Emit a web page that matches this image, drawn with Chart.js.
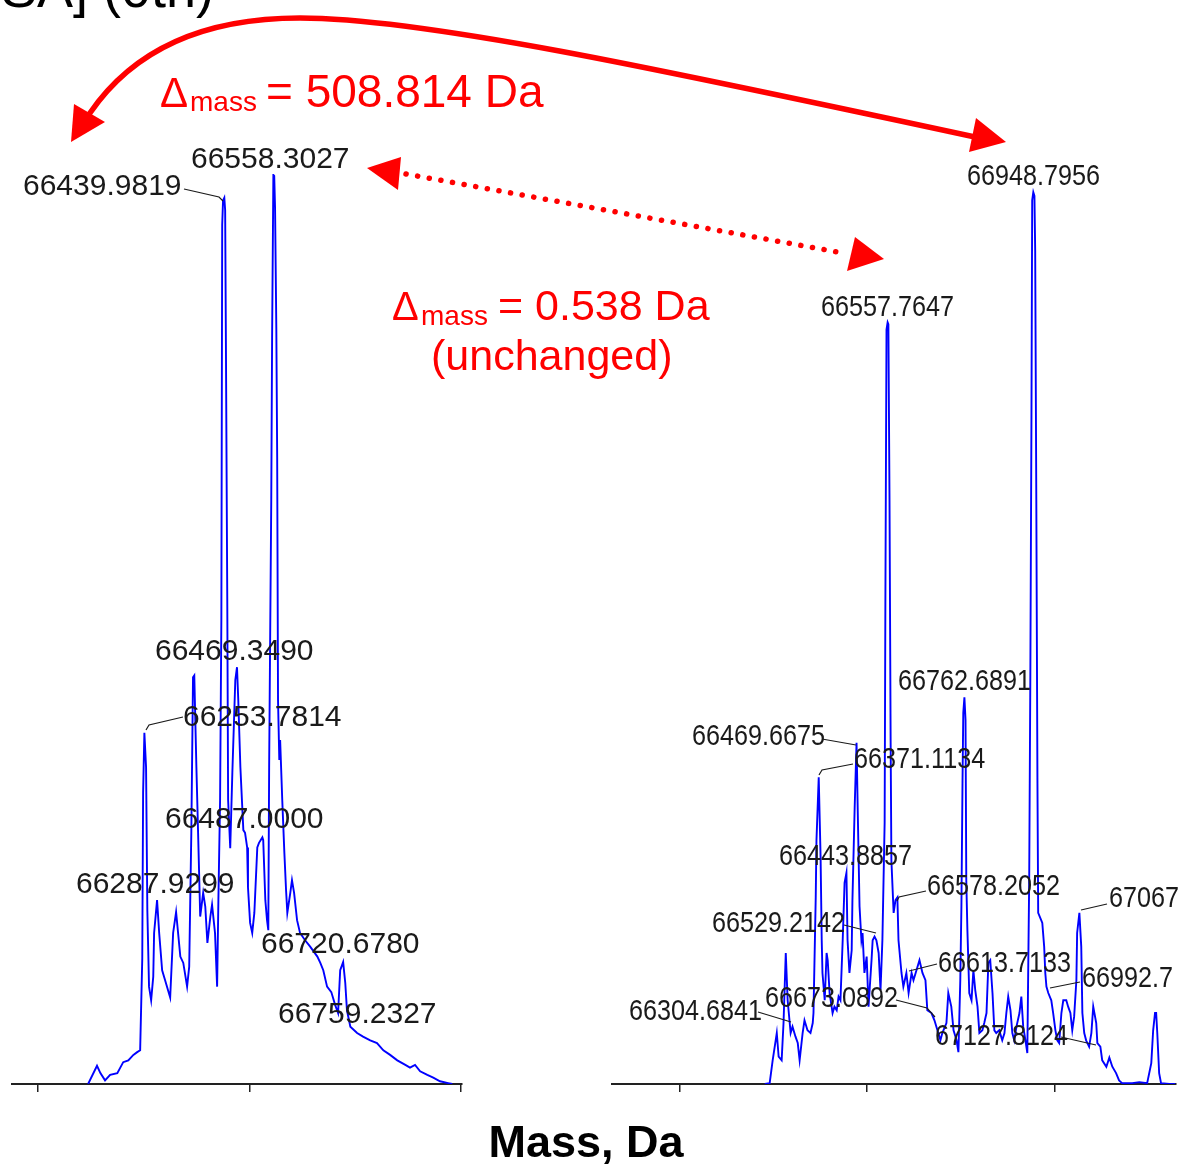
<!DOCTYPE html>
<html>
<head>
<meta charset="utf-8">
<script src="https://cdn.jsdelivr.net/npm/chart.js@4.4.1/dist/chart.umd.min.js"></script>
<style>
  html, body { margin: 0; padding: 0; background: #ffffff; }
  #wrap { position: relative; width: 1178px; height: 1165px; overflow: hidden; background: #fff; }
  canvas { position: absolute; top: 0; }
  #cL { left: 0; }
  #cR { left: 600px; }
  #ov { left: 0; pointer-events: none; }
</style>
</head>
<body>
<div id="wrap">
  <canvas id="cL" width="480" height="1165" style="width:480px;height:1165px"></canvas>
  <canvas id="cR" width="578" height="1165" style="width:578px;height:1165px"></canvas>
  <canvas id="ov" width="1178" height="1165" style="width:1178px;height:1165px"></canvas>
</div>
<script>
// ---------------- DATA ----------------
// Left spectrum: deconvoluted mass (Da) and relative intensity (%)
const massL = [66118,66139,66147,66158,66170,66187,66201,66213,66225,66234,66241,66246,66248,66251,66255,66258,66262,66267,66272,66274,66281,66286,66293,66300,66312,66319,66326,66336,66343,66352,66357,66362,66366,66369,66374,66378,66383,66390,66395,66400,66407,66411,66418,66423,66426,66430,66433,66435,66437,66440,66442,66444,66447,66449,66454,66459,66466,66470,66473,66478,66485,66489,66494,66496,66501,66506,66511,66518,66522,66530,66532,66537,66541,66544,66546,66551,66553,66556,66558,66560,66563,66565,66567,66570,66572,66577,66582,66586,66589,66596,66600,66605,66612,66619,66631,66643,66660,66667,66674,66683,66693,66702,66709,66714,66721,66726,66730,66738,66754,66768,66785,66801,66816,66832,66849,66868,66879,66891,66903,66920,66934,66950,66969,66979];
const intL  = [0,2.0,1.2,0.4,1.0,1.2,2.4,2.6,3.2,3.5,3.7,13.8,32.0,38.6,34.8,19.1,10.7,9.2,11.8,16.6,20.2,16.6,12.5,11.4,9.5,16.6,18.9,14.0,13.3,10.7,12.9,27.6,44.7,44.9,34.8,27.6,18.4,21.0,19.5,15.5,18.4,19.7,16.6,10.7,20.2,31.2,51.0,94.4,97.1,97.4,96.0,79.6,53.2,31.2,25.9,34.2,44.4,45.8,42.2,34.8,27.9,27.6,26.0,21.6,17.7,16.6,18.8,26.0,26.5,27.1,26.8,20.2,18.0,16.9,34.8,64.2,82.0,99.9,99.8,96.3,82.9,68.9,42.2,35.6,37.8,31.2,25.4,21.3,18.8,21.0,22.4,21.0,18.0,16.6,15.8,15.1,14.0,13.3,12.5,10.7,10.1,8.7,7.8,12.5,13.4,11.1,8.1,6.3,5.6,5.2,4.8,4.5,3.7,3.2,2.6,2.1,1.8,2.1,1.4,1.0,0.7,0.3,0.1,0];

// Right spectrum
const massR = [66227,66240,66248,66259,66264,66272,66277,66283,66288,66296,66301,66309,66315,66320,66328,66333,66341,66349,66355,66357,66363,66365,66371,66376,66379,66381,66387,66392,66395,66400,66408,66413,66419,66424,66429,66435,66440,66445,66448,66453,66459,66461,66467,66472,66475,66480,66485,66488,66493,66499,66504,66512,66515,66520,66525,66531,66536,66541,66547,66549,66552,66555,66557,66560,66563,66565,66571,66576,66581,66584,66592,66597,66605,66611,66619,66624,66632,66640,66648,66656,66661,66672,66680,66688,66696,66701,66712,66717,66725,66731,66739,66744,66749,66752,66755,66757,66760,66763,66765,66768,66773,66779,66784,66789,66795,66800,66808,66813,66819,66824,66829,66835,66840,66845,66853,66861,66867,66872,66877,66883,66888,66893,66899,66907,66912,66917,66923,66928,66933,66936,66939,66941,66944,66947,66949,66952,66955,66957,66965,66968,66973,66976,66979,66984,66992,66997,67003,67008,67013,67019,67024,67032,67037,67043,67048,67053,67059,67061,67067,67072,67075,67080,67085,67093,67099,67104,67112,67115,67123,67128,67139,67147,67155,67165,67173,67181,67208,67227,67248,67259,67264,67269,67272,67275,67280,67285,67307,67323];
const intR  = [0,0.1,2.6,5.6,3.0,2.6,6.7,14.4,9.2,5.6,6.3,5.2,4.5,2.6,5.6,7.0,5.9,5.6,6.7,7.8,20.5,26.8,33.7,24.9,15.8,12.2,9.2,14.4,13.6,10.0,7.8,8.5,8.1,9.6,9.2,15.8,22.1,23.2,15.8,12.2,14.7,20.2,30.4,37.5,30.4,19.5,15.8,16.6,12.2,14.0,8.5,13.6,15.8,16.2,15.8,14.4,10.3,15.8,28.7,53.2,82.9,83.7,83.5,64.2,37.8,24.6,18.8,20.2,20.5,15.8,12.2,10.7,12.2,10.0,12.2,11.4,12.5,13.6,12.2,11.4,8.1,7.8,7.0,5.9,4.8,5.6,6.7,10.0,8.5,5.9,4.8,3.5,11.4,19.5,33.4,40.8,42.5,40.0,22.4,16.9,10.0,9.2,12.5,10.3,8.5,5.6,5.9,6.7,7.8,13.3,13.6,10.0,5.9,5.6,5.9,4.8,5.6,7.8,9.6,8.1,5.6,4.8,6.3,7.8,9.6,6.3,4.8,3.4,22.4,44.4,73.0,97.1,98.0,97.6,91.6,64.2,33.4,18.8,18.0,17.7,15.1,12.2,10.7,10.0,9.2,7.8,5.9,4.8,4.5,7.8,9.2,9.2,8.5,7.8,5.9,7.4,11.4,16.6,18.8,15.1,7.8,5.6,4.8,4.1,5.6,8.5,6.7,4.5,4.1,2.6,1.9,2.9,1.9,1.2,0.4,0.1,0.1,0.2,0.1,2.3,5.9,7.8,7.8,5.6,1.2,0.1,0,0];

// Axis tick values (Da)
const tickMassL = [66000, 66500, 67000];
const tickMassR = [66000, 66500, 67000];

// Peak labels (text)
const peakTextL = ['66439.9819','66558.3027','66469.3490','66253.7814','66487.0000','66287.9299','66720.6780','66759.2327'];
const peakTextR = ['66948.7956','66557.7647','66762.6891','66469.6675','66371.1134','66443.8857','66578.2052','66529.2142','66613.7133','66992.7','67067','66304.6841','66673.0892','67127.8124'];

// ---------------- LAYOUT (annotation placement, page pixels) ----------------
const labelPosL = [[23,195],[191,168],[155,660],[183,726],[165,828],[76,893],[261,953],[278,1023]];
const leadersL  = [
  [[184,189],[219,197],[223,201]],
  null,null,
  [[183,717],[149,725],[146,730]],
  null,null,null,null
];
const labelPosR = [[967,185],[821,316],[898,690],[692,745],[854,768],[779,865],[927,895],[712,932],[938,972],[1082,987],[1109,907],[629,1020],[765,1007],[935,1045]];
const leadersR  = [
  null,null,null,
  [[822,739],[856,745]],
  [[853,764],[822,770],[819,775]],
  null,
  [[926,891],[899,897],[897,901]],
  [[844,925],[876,933]],
  [[937,964],[909,971]],
  [[1080,982],[1050,988]],
  [[1107,904],[1081,910]],
  [[758,1012],[791,1022]],
  [[896,1000],[927,1008],[935,1017]],
  [[1061,1037],[1096,1045]]
];

const FONT = "'Liberation Sans', Arial, Helvetica, sans-serif";

function makeChart(id, mass, inten, xmin, xmax, ticks, pad) {
  return new Chart(document.getElementById(id), {
    type: 'scatter',
    data: {
      datasets: [{
        data: mass.map((m, i) => ({ x: m, y: inten[i] })),
        showLine: true,
        borderColor: '#0000ff',
        borderWidth: 1.9,
        pointRadius: 0,
        pointHoverRadius: 0,
        fill: false,
        tension: 0
      }]
    },
    options: {
      responsive: false,
      animation: false,
      devicePixelRatio: 1,
      layout: { padding: pad },
      plugins: { legend: { display: false }, tooltip: { enabled: false } },
      events: [],
      scales: {
        x: {
          type: 'linear',
          min: xmin, max: xmax,
          afterBuildTicks: (s) => { s.ticks = ticks.map(v => ({ value: v })); },
          ticks: { display: false },
          grid: { display: true, drawOnChartArea: false, drawTicks: true, tickLength: 8, color: '#222', lineWidth: 1.5 },
          border: { display: true, color: '#222', width: 2 }
        },
        y: { display: false, min: 0, max: 100 }
      }
    }
  });
}

makeChart('cL', massL, intL, 65938, 67002, tickMassL, { left: 12, right: 18, top: 174, bottom: 73 });
makeChart('cR', massR, intR, 65819, 67325, tickMassR, { left: 12, right: 2, top: 174, bottom: 73 });

// ---------------- Overlay annotations ----------------
const ov = document.getElementById('ov');
const ctx = ov.getContext('2d');

function drawLabels(texts, pos, leaders, sx) {
  ctx.fillStyle = '#1a1a1a';
  ctx.font = '30px ' + FONT;
  ctx.textBaseline = 'alphabetic';
  ctx.textAlign = 'left';
  texts.forEach((t, i) => {
    ctx.save();
    ctx.translate(pos[i][0], pos[i][1]);
    ctx.scale(sx, 1);
    ctx.fillText(t, 0, 0);
    ctx.restore();
    const ld = leaders[i];
    if (ld) {
      ctx.strokeStyle = '#1a1a1a';
      ctx.lineWidth = 1.2;
      ctx.beginPath();
      ctx.moveTo(ld[0][0], ld[0][1]);
      for (let k = 1; k < ld.length; k++) ctx.lineTo(ld[k][0], ld[k][1]);
      ctx.stroke();
    }
  });
}
drawLabels(peakTextL, labelPosL, leadersL, 1.0);
drawLabels(peakTextR, labelPosR, leadersR, 0.84);

function tri(a, b, c) {
  ctx.beginPath(); ctx.moveTo(a[0], a[1]); ctx.lineTo(b[0], b[1]); ctx.lineTo(c[0], c[1]); ctx.closePath(); ctx.fill();
}

const RED = '#ff0000';
ctx.fillStyle = RED;
ctx.strokeStyle = RED;
// solid curved double arrow
ctx.lineWidth = 5.5;
ctx.lineCap = 'round';
ctx.beginPath();
ctx.moveTo(90, 113);
ctx.bezierCurveTo(140, 40, 220, 18, 300, 18);
ctx.bezierCurveTo(420, 18, 650, 67, 975, 137);
ctx.stroke();
tri([71, 142], [74, 104], [105, 122]);
tri([1006, 142], [976, 118], [969, 152]);

// dotted double arrow
ctx.save();
ctx.lineWidth = 5.5;
ctx.lineCap = 'round';
ctx.setLineDash([0.1, 11.7]);
ctx.beginPath();
ctx.moveTo(406, 174);
ctx.lineTo(843, 253);
ctx.stroke();
ctx.restore();
tri([367, 168], [401, 157], [398, 190]);
tri([884, 259], [855, 237], [847, 271]);

// red texts
ctx.textAlign = 'left';
ctx.font = '42px ' + FONT; ctx.fillText('\u0394', 160, 107);
ctx.font = '28px ' + FONT; ctx.fillText('mass', 190, 111);
ctx.font = '46px ' + FONT; ctx.fillText('= 508.814 Da', 266, 107);

ctx.font = '40px ' + FONT; ctx.fillText('\u0394', 392, 320);
ctx.font = '28px ' + FONT; ctx.fillText('mass', 421, 325);
ctx.font = '43px ' + FONT; ctx.fillText('= 0.538 Da', 498, 320);
ctx.font = '43px ' + FONT; ctx.fillText('(unchanged)', 431, 370);

// axis title
ctx.fillStyle = '#000';
ctx.font = 'bold 45px ' + FONT;
ctx.textAlign = 'center';
ctx.fillText('Mass, Da', 586, 1157);

// clipped panel title at top-left
ctx.font = '54px ' + FONT;
ctx.textAlign = 'right';
ctx.fillText('[HSA] (0th)', 214, 7);
</script>
</body>
</html>
